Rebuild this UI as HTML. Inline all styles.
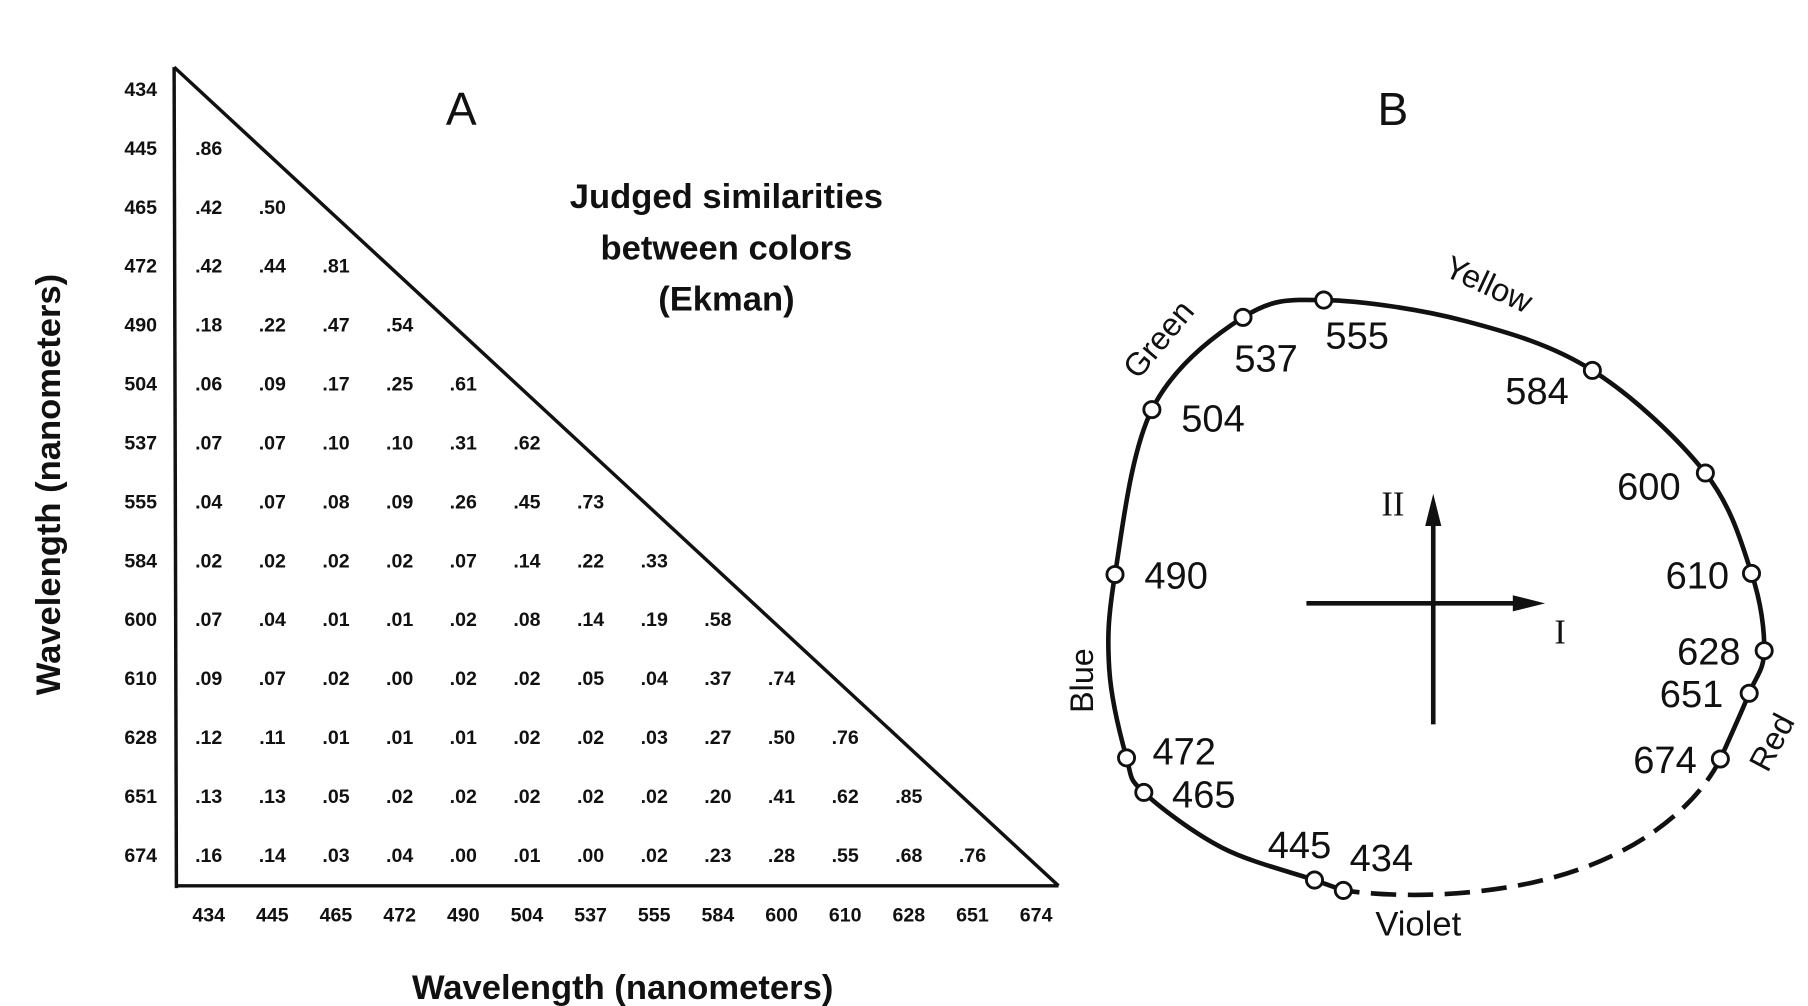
<!DOCTYPE html>
<html><head><meta charset="utf-8"><style>
html,body{margin:0;padding:0;background:#fff}
svg{display:block}
text{font-family:"Liberation Sans",sans-serif;fill:#111}
</style></head><body>
<svg id="fig" width="1808" height="1006" viewBox="0 0 1568 872" xmlns="http://www.w3.org/2000/svg">
<g id="panelA">
<text x="400" y="108" font-size="40" text-anchor="middle">A</text>
<text x="630" y="180" font-size="30" font-weight="bold" text-anchor="middle">Judged  similarities</text>
<text x="630" y="225" font-size="30" font-weight="bold" text-anchor="middle">between colors</text>
<text x="630" y="269" font-size="30" font-weight="bold" text-anchor="middle">(Ekman)</text>
<line x1="151" y1="58" x2="153" y2="770" stroke="#111" stroke-width="3"/>
<line x1="153" y1="768" x2="918" y2="768" stroke="#111" stroke-width="3"/>
<line x1="151" y1="58" x2="918" y2="768" stroke="#111" stroke-width="3"/>
<text transform="translate(52,420) rotate(-90)" font-size="30" font-weight="bold" text-anchor="middle">Wavelength (nanometers)</text>
<text x="540" y="866" font-size="30" font-weight="bold" text-anchor="middle">Wavelength (nanometers)</text>
</g>
<g id="panelB">
<text x="1208" y="108" font-size="40" text-anchor="middle">B</text>
<line x1="1243" y1="628" x2="1243" y2="445" stroke="#111" stroke-width="4"/>
<polygon points="1243,428 1236,456 1250,456" fill="#111"/>
<line x1="1133" y1="523" x2="1320" y2="523" stroke="#111" stroke-width="4"/>
<polygon points="1340,523 1312,516 1312,530" fill="#111"/>
<text x="1208" y="447" font-size="30" text-anchor="middle" style="font-family:'Liberation Serif',serif">II</text>
<text x="1353" y="558" font-size="30" text-anchor="middle" style="font-family:'Liberation Serif',serif">I</text>
<text transform="translate(1012,300) rotate(-50)" font-size="28" text-anchor="middle">Green</text>
<text transform="translate(1287,255) rotate(25)" font-size="28" text-anchor="middle">Yellow</text>
<text transform="translate(948,590) rotate(-90)" font-size="28" text-anchor="middle">Blue</text>
<text transform="translate(1545,648) rotate(-62)" font-size="28" text-anchor="middle">Red</text>
<text x="1230" y="811" font-size="30" text-anchor="middle">Violet</text>
</g>
</svg>
<script>
const wavelengths = ["434","445","465","472","490","504","537","555","584","600","610","628","651","674"];
const simRows = [
[],
[".86"],
[".42",".50"],
[".42",".44",".81"],
[".18",".22",".47",".54"],
[".06",".09",".17",".25",".61"],
[".07",".07",".10",".10",".31",".62"],
[".04",".07",".08",".09",".26",".45",".73"],
[".02",".02",".02",".02",".07",".14",".22",".33"],
[".07",".04",".01",".01",".02",".08",".14",".19",".58"],
[".09",".07",".02",".00",".02",".02",".05",".04",".37",".74"],
[".12",".11",".01",".01",".01",".02",".02",".03",".27",".50",".76"],
[".13",".13",".05",".02",".02",".02",".02",".02",".20",".41",".62",".85"],
[".16",".14",".03",".04",".00",".01",".00",".02",".23",".28",".55",".68",".76"]
];
const circleLabels = ["434","445","465","472","490","504","537","555","584","600","610","628","651","674"];
const circleX = [1165,1140,992,977,967,999,1078,1148,1381,1479,1519,1530,1517,1492];
const circleY = [772,763,687,657,498,355,275,260,321,410,497,564,601,658];
const NS="http://www.w3.org/2000/svg";
const gA=document.getElementById('panelA'), gB=document.getElementById('panelB');
function colX(i){return 181+i*55.2;}
function rowY(i){return 77+i*51.1;}
function mk(tag,attrs,parent){const e=document.createElementNS(NS,tag);for(const k in attrs)e.setAttribute(k,attrs[k]);parent.appendChild(e);return e;}
wavelengths.forEach((w,i)=>{
  const t=mk('text',{x:122,y:rowY(i)+6,'font-size':17,'font-weight':'bold','text-anchor':'middle'},gA);
  
  
  t.textContent=w;
  const c=mk('text',{x:colX(i),y:799,'font-size':17,'font-weight':'bold','text-anchor':'middle'},gA);
  
  
  c.textContent=w;
});
simRows.forEach((row,r)=>{row.forEach((v,c)=>{
  const t=mk('text',{x:colX(c),y:rowY(r)+6,'font-size':17,'font-weight':'bold','text-anchor':'middle'},gA);
  
  
  t.textContent=v;
});});
function cr(pts){let d='M'+pts[0][0]+','+pts[0][1];
  for(let i=0;i<pts.length-1;i++){const p0=pts[Math.max(0,i-1)],p1=pts[i],p2=pts[i+1],p3=pts[Math.min(pts.length-1,i+2)];
    d+=' C'+(p1[0]+(p2[0]-p0[0])/6)+','+(p1[1]+(p2[1]-p0[1])/6)+' '+(p2[0]-(p3[0]-p1[0])/6)+','+(p2[1]-(p3[1]-p1[1])/6)+' '+p2[0]+','+p2[1];}
  return d;}
const pts=circleX.map((x,i)=>[x,circleY[i]]);
// smoothing guides (shape only)
const curvePts=[pts[0],pts[1],[1060,735],pts[2],pts[3],[962,580],pts[4],pts[5],pts[6],pts[7],[1270,278],pts[8],pts[9],pts[10],pts[11],pts[12],pts[13]];
const solid=mk('path',{d:cr(curvePts),fill:'none',stroke:'#111','stroke-width':4},gB);


const last=pts[pts.length-1], first=pts[0];
const dash=mk('path',{d:'M'+last[0]+','+last[1]+' C'+(last[0]-20)+','+(last[1]+40)+' 1420,745 1330,765 C1270,778 1210,778 '+first[0]+','+first[1],fill:'none',stroke:'#111','stroke-width':4,'stroke-dasharray':'22 10'},gB);


const lblOff={"434":[33,-29],"445":[-13,-31],"465":[52,1],"472":[50,-6],"490":[53,0],"504":[53,7],"537":[20,35],"555":[29,30],"584":[-48,17],"600":[-49,11],"610":[-47,1],"628":[-48,0],"651":[-50,0],"674":[-48,0]};
circleLabels.forEach((l,i)=>{
  const c=mk('circle',{cx:circleX[i],cy:circleY[i],r:7,fill:'#fff',stroke:'#111','stroke-width':2.5},gB);
  
  
  const o=lblOff[l];
  const t=mk('text',{x:circleX[i]+o[0],y:circleY[i]+o[1]+12,'font-size':33,'text-anchor':'middle'},gB);
  
  
  t.textContent=l;
});
</script>
</body></html>
